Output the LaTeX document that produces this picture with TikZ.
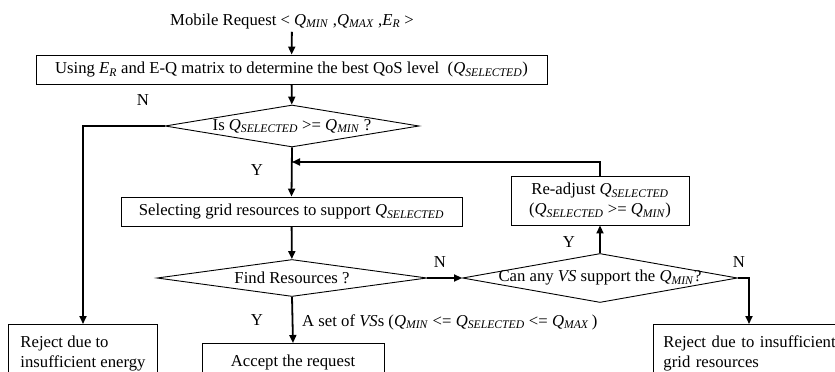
\documentclass[tikz,border=0pt]{standalone}
\usepackage{fontspec}
\setmainfont{Liberation Serif}
\usetikzlibrary{shapes.geometric,arrows.meta}
% italic quantity with italic subscript
\newcommand\Qx[1]{\textit{Q}\textsubscript{\textit{#1}}}
\newcommand\ER{\textit{E}\textsubscript{\textit{R}}}
\begin{document}
\begin{tikzpicture}[x=1pt,y=-1pt,
  font=\fontsize{16.7}{20}\selectfont,
  box/.style={draw,line width=0.9pt,rectangle,inner sep=0pt},
  dec/.style={draw,line width=0.9pt,diamond,inner sep=0pt},
  flow/.style={line width=1.8pt,-{Triangle[length=8pt,width=7pt]}},
  tag/.style={inner sep=0pt}]
\useasboundingbox (0,0) rectangle (835,372);
\clip (0,0) rectangle (835,372);

% input request
\node[inner sep=3pt,anchor=base] (req) at (292,25)
  {Mobile Request < \Qx{MIN} ,\Qx{MAX} ,\ER\ >};

% main column
\node[box,minimum width=511pt,minimum height=29pt] (best) at (291.5,69.5)
  {Using \ER\ and E-Q matrix to determine the best QoS level\ \ (\Qx{SELECTED})};
\node[dec,minimum width=254pt,minimum height=42pt,
  label={center:Is \Qx{SELECTED} >= \Qx{MIN} ?}] (chk) at (292,126) {};
\node[box,minimum width=341pt,minimum height=29pt] (sel) at (291.5,211.5)
  {Selecting grid resources to support \Qx{SELECTED}};
\node[dec,minimum width=270pt,minimum height=37pt,
  label={center:Find Resources ?}] (find) at (292,278) {};
\node[box,anchor=north,minimum width=182pt,inner ysep=11pt] (acc) at (293,343)
  {Accept the request};

% right branch
\node[dec,minimum width=275pt,minimum height=49pt,
  label={center:Can any \textit{VS} support the \Qx{MIN}?}] (any) at (600,278) {};
\node[box,minimum width=178pt,minimum height=49pt,align=center] (readj) at (600,200.5)
  {Re-adjust \Qx{SELECTED}\\(\Qx{SELECTED} >= \Qx{MIN})};
\node[box,anchor=north west,align=left,text width=200pt,inner xsep=10pt,inner ysep=10pt,
  minimum height=58pt] (rejg) at (653,324)
  {Reject due to insufficient\\grid resources};
\coordinate (rejgin) at (749,324);

% left branch
\node[box,anchor=north,align=left,minimum width=149pt,inner ysep=10pt,
  minimum height=58pt] (reje) at (83,324)
  {Reject due to\\insufficient energy};

% connectors
\coordinate (merge) at (292,162);
\draw[flow] (req) -- (best);
\draw[flow] (best) -- (chk);
\draw[flow] (chk.west) -| (reje.north);
\draw[flow] (chk.south) -- (sel.north);
\draw[flow] (readj.north) |- (merge);
\draw[flow] (sel) -- (find);
\draw[flow] (find.south) -- (acc.north);
\draw[flow] (find.east) -- (any.west);
\draw[flow] (any.north) -- (readj.south);
\draw[flow] (any.east) -| (rejgin);

% branch labels
\node[tag] (n1) at (143,100) {N};
\node[tag] (y1) at (257,170) {Y};
\node[tag] (n2) at (440,262) {N};
\node[tag] (y2) at (257,320) {Y};
\node[tag] (y3) at (569,242) {Y};
\node[tag] (n3) at (739,262) {N};
\node[tag,anchor=west] (vset) at (302,322)
  {A set of \textit{VS}s (\Qx{MIN} <= \Qx{SELECTED} <= \Qx{MAX}\,)};
\end{tikzpicture}
\end{document}
